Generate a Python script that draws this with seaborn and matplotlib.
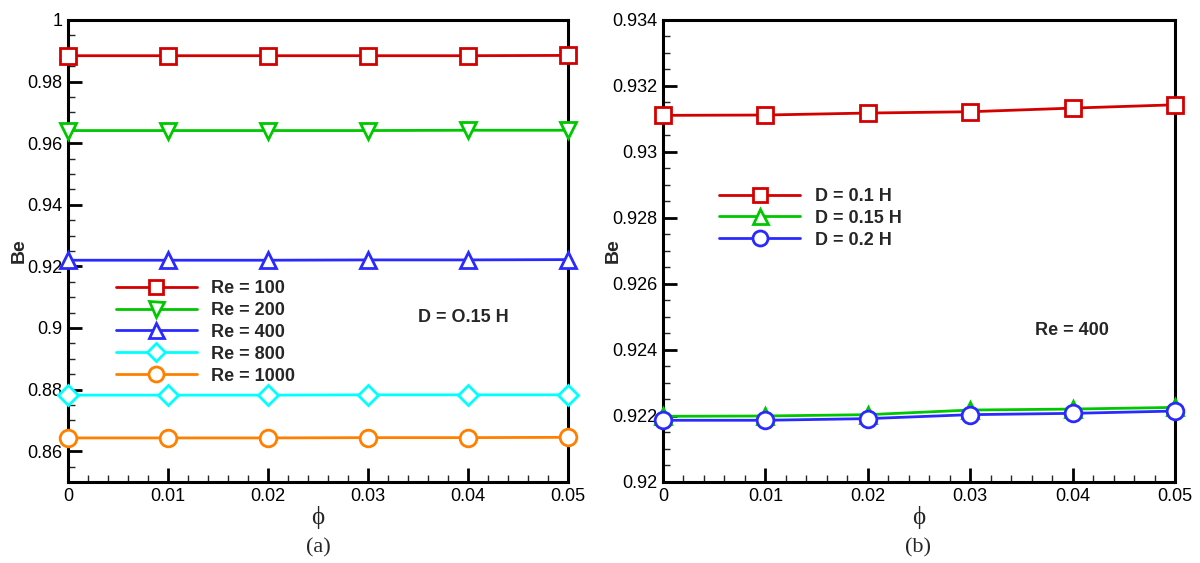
import numpy as np
import pandas as pd
import matplotlib
matplotlib.use("Agg")
import matplotlib.pyplot as plt
import seaborn as sns
from matplotlib.ticker import MultipleLocator

sns.set_theme(style="white")
plt.rcParams['font.family'] = ['Liberation Sans', 'DejaVu Sans']

phi = [0, 0.01, 0.02, 0.03, 0.04, 0.05]

# panel (a): D = 0.15 H
re_labels = ["Re = 100", "Re = 200", "Re = 400", "Re = 800", "Re = 1000"]
be_re100 = [0.9884, 0.9884, 0.9884, 0.9884, 0.9884, 0.9885]
be_re200 = [0.9641, 0.9641, 0.9641, 0.9641, 0.9642, 0.9642]
be_re400 = [0.9220, 0.9220, 0.9220, 0.9221, 0.9221, 0.9222]
be_re800 = [0.8782, 0.8782, 0.8782, 0.8783, 0.8783, 0.8783]
be_re1000 = [0.8643, 0.8643, 0.8643, 0.8644, 0.8644, 0.8645]

# panel (b): Re = 400
d_labels = ["D = 0.1 H", "D = 0.15 H", "D = 0.2 H"]
be_d010 = [0.93111, 0.93112, 0.93118, 0.93122, 0.93133, 0.93143]
be_d015 = [0.92199, 0.92200, 0.92204, 0.92218, 0.92221, 0.92226]
be_d020 = [0.92187, 0.92187, 0.92192, 0.92204, 0.92208, 0.92215]

colors_a = ["#d40000", "#00c800", "#2a2aff", "#00ffff", "#ff8000"]
markers_a = ["s", "v", "^", "D", "o"]
msize_a = [11, 12, 12, 10, 12]
colors_b = ["#d40000", "#00c800", "#2a2aff"]
markers_b = ["s", "^", "o"]
msize_b = [11, 12, 12]

fig = plt.figure(figsize=(12, 5.63), dpi=100)
axA = fig.add_axes([0.0567, 0.1439, 0.4166, 0.8206])
axB = fig.add_axes([0.5525, 0.1439, 0.4267, 0.8206])

def draw(ax, series, labels, colors, markers, sizes):
    for vals, lab, c, m, s in zip(series, labels, colors, markers, sizes):
        df = pd.DataFrame({"phi": phi, "Be": vals})
        sns.lineplot(data=df, x="phi", y="Be", ax=ax, color=c, marker=m,
                     markersize=s, markerfacecolor="white", markeredgecolor=c,
                     markeredgewidth=2, linewidth=2, label=lab, clip_on=False,
                     zorder=3)

draw(axA, [be_re100, be_re200, be_re400, be_re800, be_re1000], re_labels,
     colors_a, markers_a, msize_a)
draw(axB, [be_d010, be_d015, be_d020], d_labels, colors_b, markers_b, msize_b)

def style(ax, ylim, ymaj, ymin, yfmt, ylab_x):
    ax.set_xlim(0, 0.05)
    ax.set_ylim(*ylim)
    ax.xaxis.set_major_locator(MultipleLocator(0.01))
    ax.xaxis.set_minor_locator(MultipleLocator(0.002))
    ax.yaxis.set_major_locator(MultipleLocator(ymaj))
    ax.yaxis.set_minor_locator(MultipleLocator(ymin))
    ax.xaxis.set_major_formatter(plt.FuncFormatter(lambda v, p: "0" if abs(v) < 1e-12 else ("%.2f" % v)))
    ax.yaxis.set_major_formatter(plt.FuncFormatter(yfmt))
    ax.tick_params(axis="both", which="major", direction="in", length=10, width=2,
                   labelsize=13, colors="black", top=False, right=False,
                   bottom=True, left=True, pad=4)
    ax.tick_params(axis="both", which="minor", direction="in", length=5, width=1,
                   top=False, right=False, bottom=True, left=True)
    for sp in ax.spines.values():
        sp.set_visible(True)
        sp.set_color("black")
        sp.set_linewidth(2.2)
    ax.set_xlabel("ϕ", fontsize=18, family=["Liberation Serif", "DejaVu Serif"], labelpad=1)
    ax.set_ylabel("Be", fontsize=14, fontweight="bold")
    ax.yaxis.set_label_coords(ylab_x, 0.5)
    ax.grid(False)

def fmt_a(v, p):
    return ("%.2f" % v).rstrip("0").rstrip(".")

def fmt_b(v, p):
    return ("%.3f" % v).rstrip("0").rstrip(".")

style(axA, (0.85, 1.0), 0.02, 0.005, fmt_a, -0.08)
style(axB, (0.92, 0.934), 0.002, 0.0005, fmt_b, -0.08)

legA = axA.legend(loc="upper left", bbox_to_anchor=(0.07, 0.4645), frameon=False,
                  handlelength=4.5, handletextpad=0.8, labelspacing=0.27,
                  borderpad=0.2, markerscale=0.9, prop={"weight": "bold", "size": 13})
legB = axB.legend(loc="upper left", bbox_to_anchor=(0.085, 0.664), frameon=False,
                  handlelength=4.5, handletextpad=0.8, labelspacing=0.27,
                  borderpad=0.2, markerscale=0.9, prop={"weight": "bold", "size": 13})

axA.text(0.70, 0.355, "D = O.15 H", transform=axA.transAxes, fontsize=13,
         fontweight="bold", ha="left", va="center")
axB.text(0.727, 0.327, "Re = 400", transform=axB.transAxes, fontsize=13,
         fontweight="bold", ha="left", va="center")

fig.text(0.265, 0.027, "(a)", fontsize=16, family=["Liberation Serif", "DejaVu Serif"],
         ha="center", va="center")
fig.text(0.765, 0.027, "(b)", fontsize=16, family=["Liberation Serif", "DejaVu Serif"],
         ha="center", va="center")

fig.savefig("out.png", dpi=100, facecolor="white")
